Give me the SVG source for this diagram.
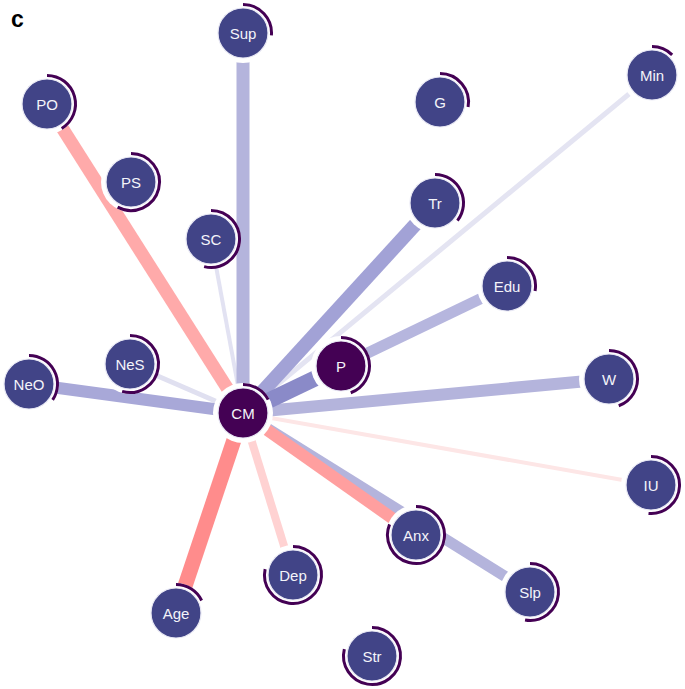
<svg xmlns="http://www.w3.org/2000/svg" width="685" height="689" viewBox="0 0 685 689">
<style>
.halo{fill:#ffffff}
.n{fill:#414487;stroke:#e8e8f4;stroke-width:1.2}
.d{fill:#440154;stroke:#e8e8f4;stroke-width:1.2}
.arc{fill:none;stroke:#440154;stroke-width:3}
.t{fill:#f4f4fa;font-family:"Liberation Sans",Arial,sans-serif;font-size:15px;text-anchor:middle;dominant-baseline:central}
.e{stroke-linecap:butt;fill:none}
</style>
<rect width="685" height="689" fill="#ffffff"/>
<text x="11" y="27" font-family="Liberation Sans,Arial,sans-serif" font-weight="bold" font-size="23" fill="#000">c</text>
<g id="edges" class="e">
<line x1="243" y1="413" x2="651" y2="485" stroke="#fde6e6" stroke-width="4"/>
<line x1="243" y1="413" x2="652" y2="75" stroke="#e4e4f2" stroke-width="5"/>
<line x1="243" y1="413" x2="211" y2="239" stroke="#e2e2f2" stroke-width="4"/>
<line x1="243" y1="413" x2="130" y2="364" stroke="#e0e0f0" stroke-width="5"/>
<line x1="243" y1="413" x2="293" y2="575" stroke="#ffd2d2" stroke-width="8"/>
<line x1="243" y1="413" x2="243" y2="33" stroke="#b4b4dc" stroke-width="13"/>
<line x1="243" y1="413" x2="47" y2="104" stroke="#ffaaaa" stroke-width="13"/>
<line x1="243" y1="413" x2="435" y2="203" stroke="#a2a2d6" stroke-width="14"/>
<line x1="243" y1="413" x2="507" y2="286" stroke="#b6b6de" stroke-width="11"/>
<line x1="243" y1="413" x2="609" y2="379" stroke="#b4b4dc" stroke-width="12"/>
<line x1="243" y1="413" x2="29" y2="384" stroke="#a8a8d8" stroke-width="12"/>
<line x1="243" y1="413" x2="530" y2="592" stroke="#b4b4dc" stroke-width="11"/>
<line x1="243" y1="413" x2="416" y2="535" stroke="#ff9f9f" stroke-width="12"/>
<line x1="243" y1="413" x2="176" y2="613" stroke="#ff8c8c" stroke-width="15"/>
<line x1="243" y1="413" x2="341" y2="366" stroke="#8a8ac8" stroke-width="16"/>
</g>
<g id="node-Sup"><circle class="halo" cx="243" cy="33" r="30"/><circle class="n" cx="243" cy="33" r="25"/><path class="arc" d="M243,4.5 A28.5,28.5 0 0 1 271.39,35.49"/><text class="t" x="243" y="33">Sup</text></g>
<g id="node-PO"><circle class="halo" cx="47" cy="104" r="30"/><circle class="n" cx="47" cy="104" r="25"/><path class="arc" d="M47,75.5 A28.5,28.5 0 0 1 61.68,128.43"/><text class="t" x="47" y="104">PO</text></g>
<g id="node-PS"><circle class="halo" cx="131" cy="182" r="30"/><circle class="n" cx="131" cy="182" r="25"/><path class="arc" d="M131,153.5 A28.5,28.5 0 1 1 117.62,207.16"/><text class="t" x="131" y="182">PS</text></g>
<g id="node-G"><circle class="halo" cx="440" cy="102" r="30"/><circle class="n" cx="440" cy="102" r="25"/><path class="arc" d="M440,73.5 A28.5,28.5 0 0 1 468.07,106.95"/><text class="t" x="440" y="102">G</text></g>
<g id="node-Tr"><circle class="halo" cx="435" cy="203" r="30"/><circle class="n" cx="435" cy="203" r="25"/><path class="arc" d="M435,174.5 A28.5,28.5 0 0 1 457.46,220.55"/><text class="t" x="435" y="203">Tr</text></g>
<g id="node-Min"><circle class="halo" cx="652" cy="75" r="30"/><circle class="n" cx="652" cy="75" r="25"/><path class="arc" d="M652,46.5 A28.5,28.5 0 0 1 672.15,54.85"/><text class="t" x="652" y="75">Min</text></g>
<g id="node-SC"><circle class="halo" cx="211" cy="239" r="30"/><circle class="n" cx="211" cy="239" r="25"/><path class="arc" d="M211,210.5 A28.5,28.5 0 1 1 204.11,266.65"/><text class="t" x="211" y="239">SC</text></g>
<g id="node-Edu"><circle class="halo" cx="507" cy="286" r="30"/><circle class="n" cx="507" cy="286" r="25"/><path class="arc" d="M507,257.5 A28.5,28.5 0 0 1 535.07,290.95"/><text class="t" x="507" y="286">Edu</text></g>
<g id="node-NeS"><circle class="halo" cx="130" cy="364" r="30"/><circle class="n" cx="130" cy="364" r="25"/><path class="arc" d="M130,335.5 A28.5,28.5 0 1 1 122.14,391.4"/><text class="t" x="130" y="364">NeS</text></g>
<g id="node-P"><circle class="halo" cx="341" cy="366" r="30"/><circle class="d" cx="341" cy="366" r="25"/><path class="arc" d="M341,337.5 A28.5,28.5 0 0 1 350.75,392.78"/><text class="t" x="341" y="366">P</text></g>
<g id="node-NeO"><circle class="halo" cx="29" cy="384" r="30"/><circle class="n" cx="29" cy="384" r="25"/><path class="arc" d="M29,355.5 A28.5,28.5 0 0 1 52.63,399.94"/><text class="t" x="29" y="384">NeO</text></g>
<g id="node-W"><circle class="halo" cx="609" cy="379" r="30"/><circle class="n" cx="609" cy="379" r="25"/><path class="arc" d="M609,350.5 A28.5,28.5 0 0 1 618.75,405.78"/><text class="t" x="609" y="379">W</text></g>
<g id="node-CM"><circle class="halo" cx="243" cy="413" r="30"/><circle class="d" cx="243" cy="413" r="25"/><path class="arc" d="M243,384.5 A28.5,28.5 0 0 1 268.16,399.62"/><text class="t" x="243" y="413">CM</text></g>
<g id="node-IU"><circle class="halo" cx="651" cy="485" r="30"/><circle class="n" cx="651" cy="485" r="25"/><path class="arc" d="M651,456.5 A28.5,28.5 0 1 1 648.52,513.39"/><text class="t" x="651" y="485">IU</text></g>
<g id="node-Anx"><circle class="halo" cx="416" cy="535" r="30"/><circle class="n" cx="416" cy="535" r="25"/><path class="arc" d="M416,506.5 A28.5,28.5 0 1 1 389.57,524.32"/><text class="t" x="416" y="535">Anx</text></g>
<g id="node-Dep"><circle class="halo" cx="293" cy="575" r="30"/><circle class="n" cx="293" cy="575" r="25"/><path class="arc" d="M293,546.5 A28.5,28.5 0 1 1 265.12,569.07"/><text class="t" x="293" y="575">Dep</text></g>
<g id="node-Slp"><circle class="halo" cx="530" cy="592" r="30"/><circle class="n" cx="530" cy="592" r="25"/><path class="arc" d="M530,563.5 A28.5,28.5 0 1 1 525.05,620.07"/><text class="t" x="530" y="592">Slp</text></g>
<g id="node-Age"><circle class="halo" cx="176" cy="613" r="30"/><circle class="n" cx="176" cy="613" r="25"/><path class="arc" d="M176,584.5 A28.5,28.5 0 0 1 201.62,600.51"/><text class="t" x="176" y="613">Age</text></g>
<g id="node-Str"><circle class="halo" cx="372" cy="656" r="30"/><circle class="n" cx="372" cy="656" r="25"/><path class="arc" d="M372,627.5 A28.5,28.5 0 1 1 344.35,649.11"/><text class="t" x="372" y="656">Str</text></g>
</svg>
